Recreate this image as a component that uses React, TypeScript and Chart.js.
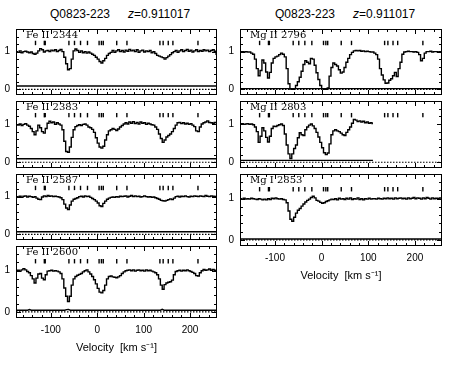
import React, { useEffect, useRef } from "react";
import { Chart, registerables } from "chart.js";

Chart.register(...registerables);

// Velocity grid (km/s)
const VEL = [
  -174, -170, -166, -162, -158, -154, -150, -146, -142, -138,
  -134, -130, -126, -122, -118, -114, -110, -106, -102, -98,
  -94, -90, -86, -82, -78, -74, -70, -66, -62, -58,
  -54, -50, -46, -42, -38, -34, -30, -26, -22, -18,
  -14, -10, -6, -2, 2, 6, 10, 14, 18, 22,
  26, 30, 34, 38, 42, 46, 50, 54, 58, 62,
  66, 70, 74, 78, 82, 86, 90, 94, 98, 102,
  106, 110, 114, 118, 122, 126, 130, 134, 138, 142,
  146, 150, 154, 158, 162, 166, 170, 174, 178, 182,
  186, 190, 194, 198, 202, 206, 210, 214, 218, 222,
  226, 230, 234, 238, 242, 246, 250, 254, 258,
];

const FE2344 = [
  1.00, 0.98, 1.02, 0.97, 1.00, 1.01, 0.99, 0.97, 0.99, 0.95,
  0.93, 0.96, 1.02, 1.08, 1.05, 0.99, 1.02, 1.03, 1.00, 1.04,
  1.02, 1.05, 1.00, 1.03, 1.06, 1.00, 0.85, 0.68, 0.52, 0.55,
  0.80, 1.02, 1.07, 1.03, 0.98, 1.02, 0.97, 1.00, 0.96, 0.99,
  0.96, 0.93, 0.90, 0.85, 0.80, 0.74, 0.70, 0.76, 0.82, 0.90,
  0.95, 0.98, 1.03, 0.98, 1.02, 1.05, 1.00, 1.03, 0.99, 1.04,
  1.01, 1.06, 1.02, 1.04, 1.00, 1.05, 0.98, 1.02, 1.04, 0.99,
  1.02, 1.00, 1.03, 0.97, 1.00, 0.95, 0.90, 0.88, 0.86, 0.84,
  0.80, 0.84, 0.88, 0.92, 0.97, 1.00, 1.03, 0.98, 1.02, 1.05,
  1.00, 1.03, 1.06, 1.01, 1.04, 0.99, 1.02, 1.05, 1.00, 1.03,
  1.01, 1.05, 1.02, 1.04, 1.00, 1.03, 1.05, 1.01, 0.93,
];

const FE2383 = [
  0.98, 0.97, 1.00, 0.96, 0.99, 1.01, 0.97, 0.94, 0.88, 0.80,
  0.72, 0.82, 0.97, 0.90, 0.80, 0.76, 0.88, 1.02, 1.07, 1.03,
  1.05, 0.99, 1.03, 1.00, 0.97, 0.85, 0.55, 0.28, 0.26, 0.40,
  0.65, 0.85, 0.93, 0.96, 0.98, 0.96, 0.99, 1.00, 0.97, 0.92,
  0.90, 0.86, 0.78, 0.64, 0.50, 0.40, 0.37, 0.42, 0.58, 0.72,
  0.82, 0.85, 0.88, 0.86, 0.83, 0.87, 0.92, 0.96, 1.00, 1.03,
  1.00, 1.05, 1.02, 1.06, 1.01, 1.04, 1.00, 1.05, 1.02, 1.03,
  0.99, 1.02, 1.00, 0.98, 0.97, 0.92, 0.86, 0.74, 0.62, 0.52,
  0.58, 0.66, 0.70, 0.74, 0.80, 0.88, 0.97, 1.03, 1.04, 1.01,
  1.03, 1.00, 1.02, 0.99, 1.01, 0.97, 0.93, 0.82, 0.80, 0.92,
  1.00, 1.03, 1.05, 1.08, 1.04, 1.03, 1.02, 1.04, 1.03,
];

const FE2587 = [
  1.00, 0.99, 1.01, 0.98, 1.01, 1.02, 0.99, 1.01, 1.00, 0.98,
  1.00, 0.96, 0.93, 0.92, 0.99, 1.02, 1.00, 1.03, 1.01, 1.02,
  1.00, 1.01, 1.00, 0.99, 0.97, 0.92, 0.80, 0.70, 0.66, 0.78,
  0.88, 0.93, 0.95, 0.97, 1.00, 1.01, 0.99, 1.02, 1.00, 1.01,
  0.98, 0.95, 0.92, 0.88, 0.83, 0.76, 0.74, 0.82, 0.88, 0.93,
  0.96, 0.98, 0.99, 0.98, 1.00, 0.99, 1.01, 1.00, 1.01, 1.02,
  0.99, 1.01, 1.03, 1.00, 1.02, 1.00, 1.01, 0.99, 1.00, 1.02,
  1.00, 0.99, 1.00, 0.98, 0.99, 0.97, 0.95, 0.93, 0.90, 0.89,
  0.88, 0.90, 0.92, 0.94, 0.92, 0.96, 1.00, 1.01, 0.99, 1.01,
  1.00, 1.02, 1.00, 0.99, 1.01, 1.00, 1.02, 1.01, 1.00, 1.02,
  1.01, 1.00, 1.03, 1.01, 1.00, 1.02, 1.01, 1.00, 1.01,
];

const FE2600 = [
  1.00, 1.01, 0.99, 1.02, 1.05, 1.02, 0.98, 0.95, 0.88, 0.80,
  0.70, 0.82, 0.92, 0.93, 0.82, 0.78, 0.90, 0.99, 1.00, 1.01,
  0.99, 1.00, 0.99, 0.97, 0.93, 0.80, 0.58, 0.38, 0.25, 0.38,
  0.65, 0.80, 0.86, 0.89, 0.91, 0.93, 0.97, 1.00, 1.02, 0.97,
  0.92, 0.86, 0.78, 0.68, 0.57, 0.48, 0.46, 0.52, 0.65, 0.80,
  0.86, 0.87, 0.85, 0.84, 0.83, 0.85, 0.88, 0.93, 0.97, 1.00,
  1.01, 1.02, 1.00, 1.02, 0.99, 1.01, 1.02, 1.00, 1.01, 0.99,
  1.02, 1.00, 1.01, 0.99, 0.97, 0.95, 0.90, 0.80, 0.65, 0.55,
  0.66, 0.70, 0.72, 0.73, 0.77, 0.90, 0.98, 1.00, 1.01, 0.99,
  1.01, 1.00, 1.02, 1.00, 0.98, 0.96, 0.93, 0.88, 0.87, 0.95,
  1.00, 1.03, 1.01, 1.02, 1.04, 1.01, 1.03, 1.00, 1.02,
];

const MG2796 = [
  1.00, 1.00, 0.99, 1.00, 0.99, 0.99, 0.96, 0.93, 0.80, 0.55,
  0.36, 0.50, 0.78, 0.70, 0.46, 0.30, 0.45, 0.70, 0.82, 0.86,
  0.88, 0.92, 0.96, 0.93, 0.86, 0.55, 0.15, 0.01, 0.00, 0.02,
  0.10, 0.20, 0.32, 0.48, 0.66, 0.76, 0.72, 0.68, 0.82, 0.80,
  0.64, 0.44, 0.26, 0.10, 0.02, 0.00, 0.00, 0.04, 0.35, 0.58,
  0.70, 0.66, 0.62, 0.52, 0.43, 0.46, 0.58, 0.72, 0.82, 0.92,
  0.98, 1.02, 1.03, 1.02, 1.03, 1.01, 1.02, 1.00, 1.01, 1.00,
  0.99, 0.99, 0.96, 0.92, 0.80, 0.55, 0.38, 0.25, 0.16, 0.17,
  0.24, 0.28, 0.36, 0.45, 0.34, 0.55, 0.72, 0.93, 0.99, 1.00,
  1.01, 1.00, 1.00, 0.99, 1.00, 0.98, 0.92, 0.76, 0.82, 0.96,
  1.00, 1.00, 1.01, 0.99, 1.00, 1.00, 0.99, 1.00, 1.00,
];

// Mg II 2803 coverage stops near +110 km/s
const MG2803 = [
  1.00, 1.01, 0.99, 1.00, 1.01, 0.99, 1.00, 0.98, 0.92, 0.80,
  0.52, 0.68, 0.90, 0.82, 0.65, 0.53, 0.68, 0.88, 0.94, 0.93,
  0.96, 0.98, 1.00, 0.96, 0.74, 0.45, 0.22, 0.10, 0.22, 0.36,
  0.45, 0.64, 0.77, 0.72, 0.70, 0.85, 0.92, 0.97, 1.00, 0.95,
  0.88, 0.78, 0.66, 0.52, 0.38, 0.25, 0.20, 0.24, 0.48, 0.72,
  0.82, 0.85, 0.82, 0.80, 0.76, 0.72, 0.70, 0.78, 0.85, 0.92,
  1.02, 1.12, 1.10, 1.06, 1.08, 1.05, 1.07, 1.03, 1.05, 1.02,
  1.03, 1.01,
];

const MG2853 = [
  1.00, 0.99, 1.01, 0.99, 1.00, 0.99, 1.01, 1.00, 0.99, 0.98,
  1.00, 0.99, 0.97, 0.99, 0.97, 1.00, 0.98, 1.01, 1.00, 1.02,
  1.00, 0.99, 1.00, 0.98, 0.97, 0.90, 0.70, 0.50, 0.45, 0.55,
  0.65, 0.72, 0.76, 0.82, 0.87, 0.92, 0.96, 0.99, 1.03, 1.06,
  1.02, 0.96, 0.94, 0.91, 0.89, 0.90, 0.93, 0.95, 0.97, 0.99,
  0.98, 1.00, 0.97, 1.01, 0.99, 1.00, 0.98, 1.01, 0.99, 1.02,
  0.98, 1.00, 0.99, 1.02, 0.98, 1.00, 0.97, 1.00, 0.99, 1.01,
  0.99, 1.00, 1.00, 0.99, 1.01, 1.00, 0.99, 1.01, 1.00, 1.02,
  1.00, 1.01, 0.99, 1.02, 1.00, 1.01, 1.02, 1.00, 1.01, 0.99,
  1.02, 1.00, 1.01, 1.03, 1.00, 1.02, 1.01, 0.99, 1.02, 1.00,
  1.03, 1.01, 0.99, 1.02, 1.00, 1.01, 1.00, 1.02, 1.01,
];

// Error spectra (solid line near zero)
const ERR_V_FULL = [-175, 258];
const ERR_V_2803 = [-175, 110];
const ERR_V_2600 = [-175, -150, -146, -142, -70, -66, -62, -58, 136, 140, 144, 258];
const ERR_FE2344 = [0.09, 0.09];
const ERR_FE2383 = [0.09, 0.09];
const ERR_FE2587 = [0.07, 0.07];
const ERR_FE2600 = [0.04, 0.04, 0.055, 0.04, 0.04, 0.055, 0.06, 0.04, 0.04, 0.06, 0.04, 0.04];
const ERR_MG2796 = [0.02, 0.02];
const ERR_MG2803 = [0.05, 0.05];
const ERR_MG2853 = [0.02, 0.02];

// Zero level (dotted)
const ZERO_V = [-175, 258];
const ZERO_LEVEL = [0, 0];

// Cloud component velocities (tick marks)
const COMPONENTS = [-133, -114, -112, -61, -49, -36, -21, 4, 9, 13, 42, 64, 135, 142, 153, 163, 217];
const COMPONENT_LEVEL = 1.23;

// Axes
const X_MIN = -175;
const X_MAX = 258;
const Y_MIN = -0.15;
const Y_MAX = 1.6;
const X_LABELS = [-100, 0, 100, 200];
const X_MINOR = [-160, -140, -120, -80, -60, -40, -20, 20, 40, 60, 80, 120, 140, 160, 180, 220, 240];
const Y_LABELS = [0, 1];
const Y_MINOR = [0.2, 0.4, 0.6, 0.8, 1.2, 1.4];

type PanelCfg = {
  label: string;
  flux: number[];
  errV: number[];
  err: number[];
  col: number;
  row: number;
  bottom: boolean;
};

const PANELS: PanelCfg[] = [
  { label: "Fe II 2344", flux: FE2344, errV: ERR_V_FULL, err: ERR_FE2344, col: 0, row: 0, bottom: false },
  { label: "Fe II 2383", flux: FE2383, errV: ERR_V_FULL, err: ERR_FE2383, col: 0, row: 1, bottom: false },
  { label: "Fe II 2587", flux: FE2587, errV: ERR_V_FULL, err: ERR_FE2587, col: 0, row: 2, bottom: false },
  { label: "Fe II 2600", flux: FE2600, errV: ERR_V_2600, err: ERR_FE2600, col: 0, row: 3, bottom: true },
  { label: "Mg II 2796", flux: MG2796, errV: ERR_V_FULL, err: ERR_MG2796, col: 1, row: 0, bottom: false },
  { label: "Mg II 2803", flux: MG2803, errV: ERR_V_2803, err: ERR_MG2803, col: 1, row: 1, bottom: false },
  { label: "Mg I 2853", flux: MG2853, errV: ERR_V_FULL, err: ERR_MG2853, col: 1, row: 2, bottom: true },
];

const COL_LEFT = [16, 240];
const COL_RIGHT = [217, 442];
const ROW_EDGES = [29, 101, 174, 246, 318];

const SANS = '"Liberation Sans", Arial, sans-serif';

const framePlugin = {
  id: "frame",
  afterDatasetsDraw(chart: any, _args: any, opts: any) {
    const { ctx, chartArea: a, scales } = chart;
    const xs = scales.x;
    const ys = scales.y;
    ctx.save();
    ctx.strokeStyle = "#000";
    ctx.lineWidth = 1;
    ctx.strokeRect(a.left + 0.5, a.top + 0.5, a.right - a.left - 1, a.bottom - a.top - 1);
    ctx.beginPath();
    const xt = (v: number, len: number) => {
      const px = Math.round(xs.getPixelForValue(v)) + 0.5;
      ctx.moveTo(px, a.bottom);
      ctx.lineTo(px, a.bottom - len);
      ctx.moveTo(px, a.top);
      ctx.lineTo(px, a.top + len);
    };
    const yt = (v: number, len: number) => {
      const py = Math.round(ys.getPixelForValue(v)) + 0.5;
      ctx.moveTo(a.left, py);
      ctx.lineTo(a.left + len, py);
      ctx.moveTo(a.right, py);
      ctx.lineTo(a.right - len, py);
    };
    X_LABELS.forEach((v) => xt(v, 5));
    X_MINOR.forEach((v) => xt(v, 3));
    Y_LABELS.forEach((v) => yt(v, 5));
    Y_MINOR.forEach((v) => yt(v, 3));
    ctx.stroke();
    ctx.fillStyle = "#000";
    ctx.font = '10px "DejaVu Serif", serif';
    ctx.textAlign = "left";
    ctx.textBaseline = "alphabetic";
    ctx.fillText(opts.label || "", a.left + 10, a.top + 9);
    ctx.restore();
  },
};

function Panel({ cfg }: { cfg: PanelCfg }) {
  const ref = useRef<HTMLCanvasElement>(null);
  const AXIS_W = 16;
  const PAD_R = 8;
  const PAD_T = 6;
  const x0 = COL_LEFT[cfg.col];
  const x1 = COL_RIGHT[cfg.col];
  const y0 = ROW_EDGES[cfg.row];
  const y1 = ROW_EDGES[cfg.row + 1];
  const xAxisH = cfg.bottom ? 40 : 6;
  const left = x0 - AXIS_W;
  const top = y0 - PAD_T;
  const width = AXIS_W + (x1 - x0) + PAD_R;
  const height = PAD_T + (y1 - y0) + xAxisH;

  useEffect(() => {
    const canvas = ref.current;
    if (!canvas) return;
    const chart = new Chart(canvas, {
      type: "line",
      data: {
        datasets: [
          {
            data: cfg.flux.map((f, i) => ({ x: VEL[i], y: f })),
            borderColor: "#000",
            borderWidth: 1.4,
            stepped: "middle",
            pointRadius: 0,
            fill: false,
          },
          {
            data: cfg.errV.map((v, i) => ({ x: v, y: cfg.err[i] })),
            borderColor: "#000",
            borderWidth: 1.4,
            pointRadius: 0,
            fill: false,
          },
          {
            data: ZERO_V.map((v, i) => ({ x: v, y: ZERO_LEVEL[i] })),
            borderColor: "#000",
            borderWidth: 1.2,
            borderDash: [1.5, 1.5],
            pointRadius: 0,
            fill: false,
          },
          {
            data: COMPONENTS.map((v) => ({ x: v, y: COMPONENT_LEVEL })),
            showLine: false,
            pointStyle: "line",
            pointRotation: 90,
            pointRadius: 2.2,
            pointBorderWidth: 1.4,
            pointBorderColor: "#000",
            borderColor: "#000",
          },
        ],
      } as any,
      options: {
        animation: false,
        responsive: false,
        devicePixelRatio: 1,
        events: [],
        layout: {
          padding: { left: 0, right: PAD_R, top: PAD_T, bottom: cfg.bottom ? 0 : xAxisH },
        },
        plugins: {
          legend: { display: false },
          tooltip: { enabled: false },
          title: { display: false },
          frame: { label: cfg.label },
        } as any,
        scales: {
          x: {
            type: "linear",
            min: X_MIN,
            max: X_MAX,
            display: cfg.bottom,
            grid: { display: false, drawTicks: false },
            border: { display: false },
            ticks: {
              color: "#000",
              font: { family: SANS, size: 10 },
              padding: 6,
              maxRotation: 0,
              autoSkip: false,
              callback: (v: any) => String(v),
            },
            afterBuildTicks: (s: any) => {
              s.ticks = X_LABELS.map((v) => ({ value: v }));
            },
            afterFit: (s: any) => {
              s.height = xAxisH;
              s.paddingLeft = 0;
              s.paddingRight = 0;
            },
            title: {
              display: cfg.bottom,
              text: "Velocity  [km s\u207B\u00B9]",
              color: "#000",
              font: { family: SANS, size: 11 },
              padding: { top: 0, bottom: 3.4 },
            },
          },
          y: {
            type: "linear",
            min: Y_MIN,
            max: Y_MAX,
            grid: { display: false, drawTicks: false },
            border: { display: false },
            ticks: {
              color: "#000",
              font: { family: SANS, size: 10 },
              padding: 6,
              callback: (v: any) => String(v),
            },
            afterBuildTicks: (s: any) => {
              s.ticks = Y_LABELS.map((v) => ({ value: v }));
            },
            afterFit: (s: any) => {
              s.width = AXIS_W;
              s.paddingTop = 0;
              s.paddingBottom = 0;
            },
          },
        },
      } as any,
      plugins: [framePlugin as any],
    });
    return () => chart.destroy();
  }, []);

  return (
    <canvas
      ref={ref}
      width={width}
      height={height}
      style={{ position: "absolute", left, top, width, height }}
    />
  );
}

const TITLE_NAME = "Q0823-223";
const TITLE_Z = "=0.911017";

export default function App() {
  const titleStyle: React.CSSProperties = {
    position: "absolute",
    top: 7,
    font: `12px ${SANS}`,
    color: "#000",
    lineHeight: "14px",
    whiteSpace: "nowrap",
  };
  return (
    <div
      style={{
        position: "absolute",
        left: 0,
        top: 0,
        width: 459,
        height: 366,
        background: "#fff",
        overflow: "hidden",
      }}
    >
      <div style={{ ...titleStyle, left: 50 }}>{TITLE_NAME}</div>
      <div style={{ ...titleStyle, left: 128 }}>
        <i>z</i>
        {TITLE_Z}
      </div>
      <div style={{ ...titleStyle, left: 275 }}>{TITLE_NAME}</div>
      <div style={{ ...titleStyle, left: 353 }}>
        <i>z</i>
        {TITLE_Z}
      </div>
      {PANELS.map((p) => (
        <Panel key={p.label} cfg={p} />
      ))}
    </div>
  );
}
